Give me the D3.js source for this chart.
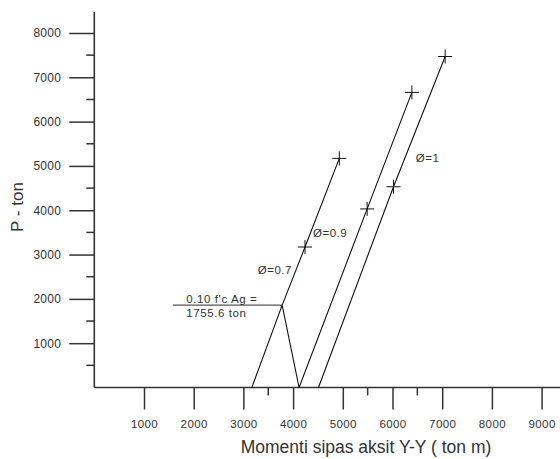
<!DOCTYPE html>
<html>
<head>
<meta charset="utf-8">
<script src="https://cdn.jsdelivr.net/npm/d3@7"></script>
<style>
  body { margin: 0; background: #fff; }
  text { font-family: Arial, "Liberation Sans", sans-serif; fill: #333; }
</style>
</head>
<body>
<svg width="560" height="459"></svg>
<script>
// ---- data (moment in ton m, axial load in ton) ----
const xMajor = [1000, 2000, 3000, 4000, 5000, 6000, 7000, 8000, 9000];
const xMinor = [3500, 5500, 6500];
const yMajor = [1000, 2000, 3000, 4000, 5000, 6000, 7000, 8000];
const yMinor = [500, 1500, 2500, 3500, 4500, 5500, 6500, 7500];

// phi = 0.7 branch (through the 0.10 f'c Ag break point)
const phi07M = [3170, 3780, 4240, 4930];
const phi07P = [0, 1860, 3170, 5170];
// drop from the break point back to the axis
const dropM = [3780, 4120];
const dropP = [1860, 0];
const phi09M = [4120, 5490, 6390];
const phi09P = [0, 4030, 6660];
const phi1M = [4510, 6020, 7060];
const phi1P = [0, 4530, 7470];

// plotted markers (+)
const markM = [4240, 4930, 5490, 6390, 6020, 7060];
const markP = [3170, 5170, 4030, 6660, 4530, 7470];

// limit line 0.10 f'c Ag
const limitM = [1580, 3780];
const limitP = 1860;

const phiLabels = ["Ø=0.7", "Ø=0.9", "Ø=1"];
const phiLabelM = [3290, 4400, 6470];
const phiLabelP = [2560, 3400, 5090];

const noteLines = ["0.10 f'c Ag =", "1755.6 ton"];
const noteM = 1850;
const noteP = [1905, 1590];

const xTitle = "Momenti sipas aksit Y-Y ( ton m)";
const yTitle = "P - ton";
////////////////////////////////////////////////////

const svg = d3.select("svg");
const x = d3.scaleLinear().domain([0, 9000]).range([94.3, 541.6]);
const y = d3.scaleLinear().domain([0, 8000]).range([387.5, 33]);

const pts = (ms, ps) => ms.map((m, i) => [x(m), y(Array.isArray(ps) ? ps[i] : ps)]);
const line = d3.line();
const fmt = d3.format("d");

// x axis
const xAxisG = svg.append("g").attr("transform", `translate(0,${y(0)})`);
xAxisG.call(d3.axisBottom(x).tickValues(xMajor).tickFormat(fmt).tickSize(22).tickPadding(10))
  .call(g => g.select(".domain").remove());
xAxisG.selectAll(".tick line").attr("stroke", "#333").attr("stroke-width", 1.5);
xAxisG.selectAll(".tick text")
  .attr("font-size", 11.5).attr("fill", "#222").attr("font-family", "Arial, 'Liberation Sans', sans-serif")
  .attr("letter-spacing", 0.4);
xAxisG.selectAll(".minor").data(xMinor).enter().append("line")
  .attr("class", "minor")
  .attr("x1", d => x(d)).attr("x2", d => x(d))
  .attr("y1", 0).attr("y2", 8)
  .attr("stroke", "#333").attr("stroke-width", 1.5);
svg.append("line")
  .attr("x1", x(0)).attr("x2", 560)
  .attr("y1", y(0)).attr("y2", y(0))
  .attr("stroke", "#333").attr("stroke-width", 1.6);

// y axis
const yAxisG = svg.append("g").attr("transform", `translate(${x(0)},0)`);
yAxisG.call(d3.axisLeft(y).tickValues(yMajor).tickFormat(fmt).tickSize(25).tickPadding(8))
  .call(g => g.select(".domain").remove());
yAxisG.selectAll(".tick line").attr("stroke", "#333").attr("stroke-width", 1.5);
yAxisG.selectAll(".tick text")
  .attr("font-size", 12).attr("fill", "#222").attr("font-family", "Arial, 'Liberation Sans', sans-serif")
  .attr("letter-spacing", 0.3);
yAxisG.selectAll(".minor").data(yMinor).enter().append("line")
  .attr("class", "minor")
  .attr("x1", 0).attr("x2", -8)
  .attr("y1", d => y(d)).attr("y2", d => y(d))
  .attr("stroke", "#333").attr("stroke-width", 1.5);
svg.append("line")
  .attr("x1", x(0)).attr("x2", x(0))
  .attr("y1", y(0)).attr("y2", 12)
  .attr("stroke", "#333").attr("stroke-width", 1.6);

// interaction lines
const curves = [pts(phi07M, phi07P), pts(dropM, dropP), pts(phi09M, phi09P), pts(phi1M, phi1P)];
svg.append("g").selectAll("path").data(curves).enter().append("path")
  .attr("d", line)
  .attr("fill", "none").attr("stroke", "#111").attr("stroke-width", 1.1);

// limit line
svg.append("path")
  .attr("d", line(pts(limitM, limitP)))
  .attr("fill", "none").attr("stroke", "#555").attr("stroke-width", 1.2);

// markers
const marks = svg.append("g").selectAll("g").data(markM).enter().append("g")
  .attr("transform", (d, i) => `translate(${x(d)},${y(markP[i])})`);
marks.append("line").attr("x1", -7).attr("x2", 7).attr("y1", 0).attr("y2", 0)
  .attr("stroke", "#111").attr("stroke-width", 1);
marks.append("line").attr("x1", 0).attr("x2", 0).attr("y1", -7).attr("y2", 7)
  .attr("stroke", "#111").attr("stroke-width", 1);

// phi labels
svg.append("g").selectAll("text").data(phiLabels).enter().append("text")
  .attr("x", (d, i) => x(phiLabelM[i]))
  .attr("y", (d, i) => y(phiLabelP[i]))
  .attr("font-size", 11.5).attr("letter-spacing", 0.5)
  .text(d => d);

// note
svg.append("g").selectAll("text").data(noteLines).enter().append("text")
  .attr("x", x(noteM))
  .attr("y", (d, i) => y(noteP[i]))
  .attr("font-size", 11.5).attr("letter-spacing", 0.6)
  .text(d => d);

// titles
svg.append("text")
  .attr("x", 366).attr("y", 453)
  .attr("text-anchor", "middle").attr("font-size", 17.5)
  .text(xTitle);
svg.append("text")
  .attr("transform", "translate(23,207) rotate(-90)")
  .attr("text-anchor", "middle").attr("font-size", 17)
  .text(yTitle);
</script>
</body>
</html>
